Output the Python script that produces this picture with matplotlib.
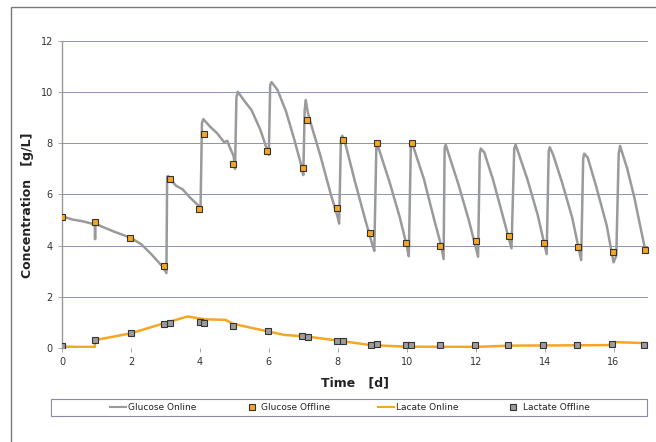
import numpy as np
import matplotlib
matplotlib.use("Agg")
import matplotlib.pyplot as plt
from matplotlib.patches import Rectangle
from matplotlib.lines import Line2D

# Glucose online (Zeitpunkte in Tagen, Konzentration in g/L)
glc_on_t = [0.0, 0.3, 0.6, 0.95, 0.96, 0.97, 1.5, 2.0, 2.3, 2.6, 2.9, 3.03,
            3.05, 3.08, 3.3, 3.5, 3.7, 3.97, 4.02,
            4.06, 4.1, 4.3, 4.5, 4.7, 4.8, 4.85, 4.98, 5.02,
            5.06, 5.1, 5.3, 5.5, 5.75, 5.95, 6.0,
            6.04, 6.08, 6.25, 6.5, 6.75, 6.95, 7.0,
            7.04, 7.07, 7.12, 7.17, 7.5, 7.8, 8.0, 8.04,
            8.09, 8.13, 8.2, 8.5, 8.8, 9.0, 9.06,
            9.12, 9.14, 9.5, 9.8, 10.0, 10.06,
            10.12, 10.16, 10.5, 10.8, 11.0, 11.07,
            11.1, 11.13, 11.5, 11.8, 12.0, 12.07,
            12.12, 12.15, 12.25, 12.5, 12.8, 13.04,
            13.12, 13.16, 13.5, 13.8, 14.06,
            14.12, 14.15, 14.25, 14.5, 14.8, 15.06,
            15.12, 15.15, 15.25, 15.5, 15.8, 16.0, 16.05, 16.08,
            16.15, 16.19, 16.4, 16.6, 16.8, 16.9]
glc_on_v = [5.15, 5.02, 4.95, 4.83, 4.25, 4.85, 4.55, 4.3, 4.05, 3.65, 3.2, 2.92,
            6.7, 6.72, 6.35, 6.2, 5.9, 5.55, 5.5,
            8.8, 8.95, 8.65, 8.4, 8.05, 8.1, 7.9, 7.5, 7.0,
            9.8, 10.02, 9.65, 9.3, 8.55, 7.75, 7.55,
            10.3, 10.4, 10.1, 9.25, 8.1, 7.1, 6.76,
            9.3, 9.7, 9.3, 9.0, 7.5, 6.0, 5.1, 4.86,
            8.1, 8.3, 8.1, 6.5, 5.0, 4.05, 3.79,
            7.9, 8.0, 6.5, 5.1, 4.0, 3.58,
            7.9, 8.0, 6.6, 5.0, 4.0, 3.47,
            7.8, 7.95, 6.4, 5.0, 3.95, 3.56,
            7.6, 7.8, 7.65, 6.6, 5.1, 3.89,
            7.8, 7.95, 6.6, 5.2, 3.66,
            7.7, 7.85, 7.55, 6.5, 5.1, 3.43,
            7.4, 7.6, 7.45, 6.3, 4.8, 3.34, 3.5, 3.6,
            7.6, 7.9, 7.0, 5.9, 4.6, 3.95]

# Glucose offline
glc_off_t = [0.0, 0.96, 1.98, 2.97, 3.14, 3.97, 4.11, 4.96, 5.96, 6.98, 7.12,
             7.97, 8.16, 8.94, 9.14, 9.98, 10.16, 10.98, 12.0, 12.97, 13.98,
             14.96, 15.98, 16.9]
glc_off_v = [5.12, 4.93, 4.3, 3.2, 6.62, 5.45, 8.38, 7.2, 7.72, 7.05, 8.93,
             5.48, 8.15, 4.48, 8.03, 4.1, 8.03, 4.0, 4.17, 4.38, 4.1,
             3.94, 3.75, 3.82]

# Lactate online
lac_on_t = [0.0, 0.5, 0.95, 0.97, 1.99, 2.9, 3.64, 4.16, 4.74, 4.97, 6.0,
            6.45, 7.14, 8.05, 8.96, 9.99, 12.0, 13.0, 15.9, 16.0, 16.9]
lac_on_v = [0.04, 0.03, 0.03, 0.3, 0.56, 0.93, 1.22, 1.11, 1.09, 0.93, 0.63,
            0.5, 0.43, 0.27, 0.1, 0.04, 0.03, 0.08, 0.1, 0.22, 0.18]

# Lactate offline
lac_off_t = [0.0, 0.96, 1.99, 2.95, 3.12, 4.0, 4.12, 4.97, 5.97, 6.97, 7.13,
             7.97, 8.14, 8.96, 9.13, 9.98, 10.12, 10.96, 11.98, 12.95, 13.95,
             14.94, 15.95, 16.87]
lac_off_v = [0.08, 0.3, 0.56, 0.92, 0.95, 1.0, 0.97, 0.85, 0.65, 0.46, 0.43,
             0.27, 0.27, 0.12, 0.13, 0.1, 0.11, 0.1, 0.1, 0.11, 0.11,
             0.12, 0.14, 0.12]

x_ticks = [0, 2, 4, 6, 8, 10, 12, 14, 16]
y_ticks = [0, 2, 4, 6, 8, 10, 12]

grey = '#9a9a9a'
orange = '#f5a623'
gridc = '#8c92b4'

fig = plt.figure(figsize=(6.56, 4.42), dpi=100)

# Rahmen um das Diagramm
fig.patches.append(Rectangle((11 / 656, -0.05), 1.0, 1 - 7 / 442 + 0.05,
                             transform=fig.transFigure, fill=False,
                             edgecolor='#7a7a7a', lw=1.0))

ax = fig.add_axes([0.0945, 0.2134, 0.8933, 0.6932])

for y in y_ticks:
    ax.axhline(y, color=gridc, lw=0.7, zorder=1)

ax.plot(glc_on_t, glc_on_v, color=grey, lw=1.8, zorder=3)
ax.plot(lac_on_t, lac_on_v, color=orange, lw=1.8, zorder=3)
ax.plot(glc_off_t, glc_off_v, 's', ms=5, mfc=orange, mec='#333333', mew=0.8, zorder=4)
ax.plot(lac_off_t, lac_off_v, 's', ms=5, mfc='#9c9c9c', mec='#333333', mew=0.8, zorder=4)

ax.set_xlim(0, 17)
ax.set_ylim(0, 12)
ax.set_xticks(x_ticks)
ax.set_yticks(y_ticks)
ax.tick_params(axis='both', labelsize=7, colors='#333333', length=3, width=0.6)
ax.tick_params(axis='both', color='#999999')

for s in ['top', 'right', 'bottom']:
    ax.spines[s].set_visible(False)
ax.spines['left'].set_color('#999999')
ax.spines['left'].set_linewidth(1.0)

fig.text(27 / 656, 1 - 205 / 442, 'Concentration   [g/L]', rotation=90,
         ha='center', va='center', fontsize=9, fontweight='bold', color='#222222')
fig.text(355 / 656, 1 - 383 / 442, 'Time   [d]', ha='center', va='center',
         fontsize=9, fontweight='bold', color='#222222')

# Legende
fig.patches.append(Rectangle((51 / 656, 1 - 415.5 / 442), 596 / 656, 16.2 / 442,
                             transform=fig.transFigure, fill=False,
                             edgecolor='#8a8aa8', lw=0.8))
handles = [Line2D([], [], color=grey, lw=1.5),
           Line2D([], [], ls='', marker='s', ms=5, mfc=orange, mec='#333333', mew=0.8),
           Line2D([], [], color=orange, lw=1.5),
           Line2D([], [], ls='', marker='s', ms=5, mfc='#9c9c9c', mec='#333333', mew=0.8)]
labels = ['Glucose Online', 'Glucose Offline', 'Lacate Online', 'Lactate Offline']
fig.legend(handles, labels, ncol=4, loc='center',
           bbox_to_anchor=(350 / 656, 1 - 407.5 / 442), frameon=False,
           fontsize=6.5, handlelength=1.8, handletextpad=0.2, columnspacing=5.2,
           labelcolor='#222222')

fig.savefig('out.png', dpi=100)
